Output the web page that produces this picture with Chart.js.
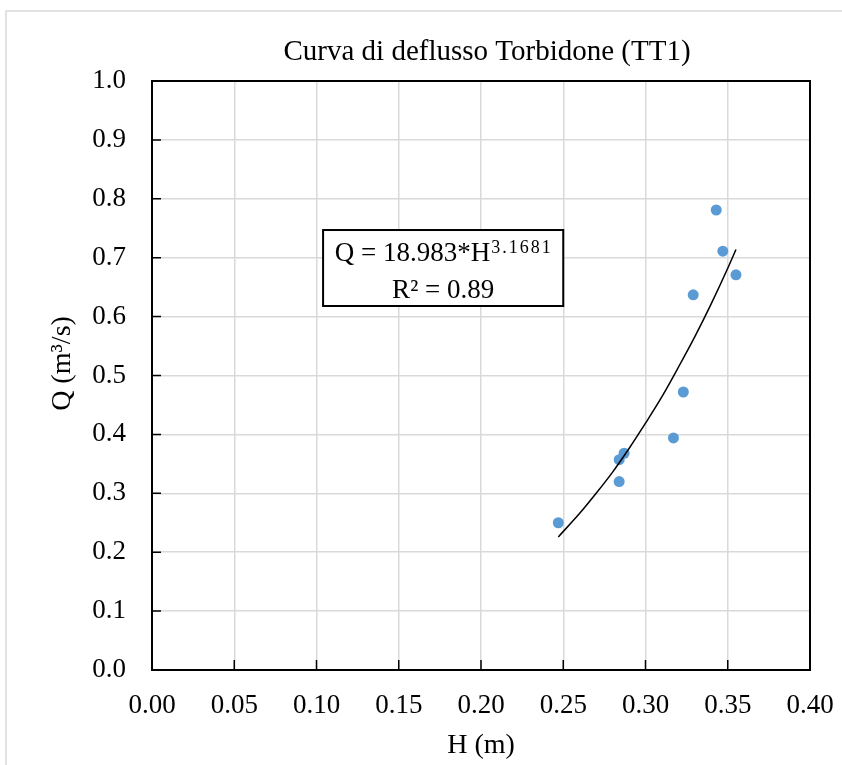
<!DOCTYPE html>
<html>
<head>
<meta charset="utf-8">
<title>Curva di deflusso Torbidone (TT1)</title>
<script src="https://cdn.jsdelivr.net/npm/chart.js@4.4.1/dist/chart.umd.min.js"></script>
<style>
  html, body { margin: 0; padding: 0; background: #ffffff; }
  canvas { display: block; }
</style>
</head>
<body>
<canvas id="chart-curva" width="842" height="765"></canvas>
<script>
// ==========================================
// 1. DATI
// ==========================================
const titolo = 'Curva di deflusso Torbidone (TT1)';
const etichettaX = 'H (m)';
const etichettaY = 'Q (m³/s)';

// misure H (m) e Q (m3/s)
const misureH = [0.247, 0.284, 0.284, 0.287, 0.317, 0.323, 0.329, 0.343, 0.347, 0.355];
const misureQ = [0.250, 0.320, 0.357, 0.368, 0.394, 0.472, 0.637, 0.781, 0.711, 0.671];

// linea di tendenza (potenza), punti letti lungo la curva
const tendenzaH = [0.247, 0.260, 0.270, 0.280, 0.290, 0.300, 0.310, 0.320, 0.330, 0.340, 0.350, 0.355];
const tendenzaQ = [0.226, 0.266, 0.300, 0.336, 0.376, 0.419, 0.464, 0.514, 0.566, 0.622, 0.682, 0.714];

// testo dell'equazione
const eqBase = 'Q = 18.983*H';
const eqEsponente = '3.1681';
const eqR2 = 'R² = 0.89';

// ==========================================
// 2. STILE
// ==========================================
const FONT = '"Liberation Serif", "Times New Roman", serif';
const GRIGIO = '#d9d9d9';
const BLU = '#5b9bd5';
// riquadro equazione in coordinate dati [H sinistra, H destra, Q alto, Q basso]
const boxEq = { x0: 0.104, x1: 0.25, y0: 0.747, y1: 0.618 };

const puntiMisure = misureH.map((h, i) => ({ x: h, y: misureQ[i] }));
const puntiTendenza = tendenzaH.map((h, i) => ({ x: h, y: tendenzaQ[i] }));

// ==========================================
// 3. PLUGIN: cornice, tacche interne, titoli, equazione
// ==========================================
const pluginExcel = {
    id: 'excelLook',
    beforeDraw(chart) {
        const ctx = chart.ctx;
        ctx.save();
        ctx.fillStyle = '#ffffff';
        ctx.fillRect(0, 0, chart.width, chart.height);
        // bordo esterno dell'area grafico
        ctx.strokeStyle = GRIGIO;
        ctx.lineWidth = 1.5;
        ctx.beginPath();
        ctx.moveTo(6, chart.height + 5);
        ctx.lineTo(6, 11);
        ctx.lineTo(chart.width + 5, 11);
        ctx.stroke();
        // titolo
        const a = chart.chartArea;
        ctx.fillStyle = '#000000';
        ctx.font = '29px ' + FONT;
        ctx.textAlign = 'center';
        ctx.textBaseline = 'alphabetic';
        ctx.fillText(titolo, (a.left + a.right) / 2 + 6, 60);
        // titolo asse Y (ruotato)
        ctx.translate(70, (a.top + a.bottom) / 2 - 12);
        ctx.rotate(-Math.PI / 2);
        ctx.font = '28px ' + FONT;
        ctx.fillText(etichettaY, 0, 0);
        ctx.restore();
    },
    afterDatasetsDraw(chart) {
        const ctx = chart.ctx;
        const a = chart.chartArea;
        const sx = chart.scales.x, sy = chart.scales.y;
        ctx.save();

        // bordo nero dell'area del tracciato
        ctx.strokeStyle = '#000000';
        ctx.lineWidth = 2;
        ctx.strokeRect(a.left, a.top, a.right - a.left, a.bottom - a.top);

        // tacche verso l'interno
        ctx.lineWidth = 1.5;
        ctx.beginPath();
        sx.ticks.forEach(t => {
            const px = sx.getPixelForValue(t.value);
            ctx.moveTo(px, a.bottom);
            ctx.lineTo(px, a.bottom - 10);
        });
        sy.ticks.forEach(t => {
            const py = sy.getPixelForValue(t.value);
            ctx.moveTo(a.left, py);
            ctx.lineTo(a.left + 9, py);
        });
        ctx.stroke();

        // riquadro equazione
        const bx0 = sx.getPixelForValue(boxEq.x0);
        const bx1 = sx.getPixelForValue(boxEq.x1);
        const by0 = sy.getPixelForValue(boxEq.y0);
        const by1 = sy.getPixelForValue(boxEq.y1);
        ctx.fillStyle = '#ffffff';
        ctx.fillRect(bx0, by0, bx1 - bx0, by1 - by0);
        ctx.lineWidth = 2;
        ctx.strokeRect(bx0, by0, bx1 - bx0, by1 - by0);

        const cx = (bx0 + bx1) / 2;
        ctx.fillStyle = '#000000';
        ctx.textBaseline = 'alphabetic';
        ctx.textAlign = 'left';
        ctx.font = '27px ' + FONT;
        const wBase = ctx.measureText(eqBase).width;
        ctx.font = '18px ' + FONT;
        ctx.letterSpacing = '2px';
        const wEsp = ctx.measureText(eqEsponente).width;
        const start = cx - (wBase + wEsp) / 2;
        const base1 = by0 + 31;
        ctx.letterSpacing = '0px';
        ctx.font = '27px ' + FONT;
        ctx.fillText(eqBase, start, base1);
        ctx.font = '18px ' + FONT;
        ctx.letterSpacing = '2px';
        ctx.fillText(eqEsponente, start + wBase + 1, base1 - 8);
        ctx.letterSpacing = '0px';
        ctx.font = '27px ' + FONT;
        ctx.textAlign = 'center';
        ctx.fillText(eqR2, cx, base1 + 37);
        ctx.restore();
    }
};

// ==========================================
// 4. GRAFICO
// ==========================================
const ctxCurva = document.getElementById('chart-curva').getContext('2d');

new Chart(ctxCurva, {
    type: 'scatter',
    data: {
        datasets: [
            {
                label: 'Tendenza',
                data: puntiTendenza,
                showLine: true,
                borderColor: '#000000',
                borderWidth: 1.5,
                pointRadius: 0,
                cubicInterpolationMode: 'monotone',
                order: 0
            },
            {
                label: 'Misure',
                data: puntiMisure,
                backgroundColor: BLU,
                borderColor: BLU,
                borderWidth: 0,
                pointRadius: 5.5,
                order: 1
            }
        ]
    },
    options: {
        responsive: false,
        animation: false,
        devicePixelRatio: 1,
        layout: { padding: { left: 0, top: 81, right: 32, bottom: 0 } },
        plugins: {
            legend: { display: false },
            tooltip: { enabled: false },
            title: { display: false }
        },
        scales: {
            x: {
                type: 'linear',
                min: 0, max: 0.4,
                afterFit(scale) {
                    scale.height = 95;
                    scale.paddingLeft = 0;
                    scale.paddingRight = 0;
                },
                ticks: {
                    stepSize: 0.05,
                    padding: 20,
                    color: '#000000',
                    font: { family: FONT, size: 27 },
                    maxRotation: 0,
                    callback: v => v.toFixed(2)
                },
                grid: { color: GRIGIO, lineWidth: 1.5, drawTicks: false },
                border: { display: false },
                title: {
                    display: true,
                    text: etichettaX,
                    color: '#000000',
                    font: { family: FONT, size: 28 },
                    padding: { top: 0, bottom: 3 }
                }
            },
            y: {
                type: 'linear',
                min: 0, max: 1,
                afterFit(scale) {
                    scale.width = 152;
                    scale.paddingTop = 0;
                    scale.paddingBottom = 0;
                },
                ticks: {
                    stepSize: 0.1,
                    padding: 26,
                    color: '#000000',
                    font: { family: FONT, size: 27 },
                    callback: v => v.toFixed(1)
                },
                grid: { color: GRIGIO, lineWidth: 1.5, drawTicks: false },
                border: { display: false },
                title: { display: false }
            }
        }
    },
    plugins: [pluginExcel]
});
</script>
</body>
</html>
